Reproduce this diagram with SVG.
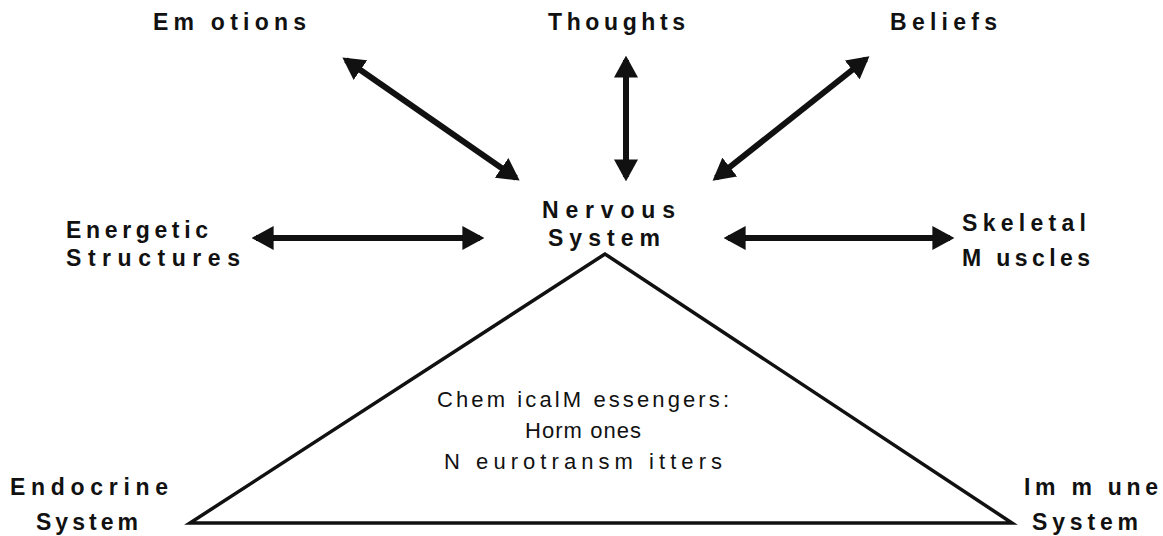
<svg xmlns="http://www.w3.org/2000/svg" width="1163" height="536" viewBox="0 0 1163 536">
<style>
.lbl{font-family:"Liberation Sans",Arial,sans-serif;font-weight:bold;font-size:23px;fill:#111}
.msg{font-family:"Liberation Sans",Arial,sans-serif;font-size:22px;fill:#111;text-anchor:middle}
.arr{stroke:#111;stroke-width:6;fill:none;marker-start:url(#ah);marker-end:url(#ah)}
.tri{stroke:#111;stroke-width:3.5;fill:none;stroke-linejoin:miter}
</style>
<defs>
<marker id="ah" viewBox="0 0 10 10" refX="8" refY="5" markerWidth="22" markerHeight="24" markerUnits="userSpaceOnUse" orient="auto-start-reverse" preserveAspectRatio="none">
<path d="M0,0 L10,5 L0,10 Z" fill="#111"/>
</marker>
</defs>
<rect width="1163" height="536" fill="#fff"/>
<g id="connectors">
<line class="arr" x1="346" y1="60" x2="516" y2="178"/>
<line class="arr" x1="626" y1="60" x2="626" y2="177"/>
<line class="arr" x1="866" y1="59" x2="716" y2="178"/>
<line class="arr" x1="256" y1="238" x2="480" y2="238"/>
<line class="arr" x1="728" y1="238" x2="950" y2="238"/>
</g>
<g id="triangle">
<polygon class="tri" points="605,254 190,523 1012,523"/>
</g>
<g id="emotions"><text class="lbl" x="153" y="30" textLength="153" lengthAdjust="spacing">Em otions</text></g>
<g id="thoughts"><text class="lbl" x="548" y="30" textLength="137" lengthAdjust="spacing">Thoughts</text></g>
<g id="beliefs"><text class="lbl" x="890" y="30" textLength="107" lengthAdjust="spacing">Beliefs</text></g>
<g id="energetic">
<text class="lbl" x="66" y="238" textLength="142" lengthAdjust="spacing">Energetic</text>
<text class="lbl" x="66" y="266" textLength="174" lengthAdjust="spacing">Structures</text>
</g>
<g id="nervous">
<text class="lbl" x="542" y="218" textLength="133" lengthAdjust="spacing">Nervous</text>
<text class="lbl" x="548" y="246" textLength="112" lengthAdjust="spacing">System</text>
</g>
<g id="skeletal">
<text class="lbl" x="962" y="231" textLength="124" lengthAdjust="spacing">Skeletal</text>
<text class="lbl" x="962" y="266" textLength="128" lengthAdjust="spacing">M uscles</text>
</g>
<g id="endocrine">
<text class="lbl" x="10" y="495" textLength="158" lengthAdjust="spacing">Endocrine</text>
<text class="lbl" x="36" y="530" textLength="102" lengthAdjust="spacing">System</text>
</g>
<g id="immune">
<text class="lbl" x="1024" y="495" textLength="134" lengthAdjust="spacing">Im m une</text>
<text class="lbl" x="1032" y="530" textLength="106" lengthAdjust="spacing">System</text>
</g>
<g id="messengers">
<text class="msg" x="583" y="407" textLength="292" lengthAdjust="spacing">Chem icalM essengers:</text>
<text class="msg" x="583" y="438" textLength="116" lengthAdjust="spacing">Horm ones</text>
<text class="msg" x="583" y="469" textLength="278" lengthAdjust="spacing">N eurotransm itters</text>
</g>
</svg>
